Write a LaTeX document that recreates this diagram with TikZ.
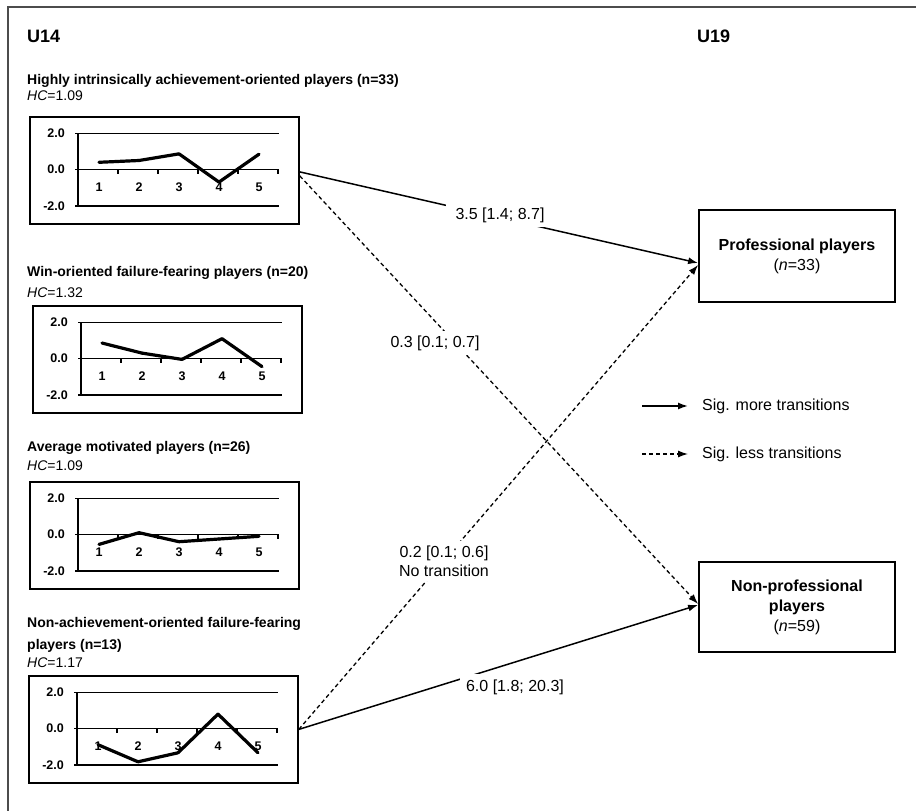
\documentclass[tikz,border=0pt]{standalone}
\usepackage{fontspec}
\setmainfont{Liberation Sans}
\usetikzlibrary{arrows.meta,positioning}

\begin{document}
\begin{tikzpicture}[
    x=1pt, y=-1pt,
    chartbox/.style={rectangle, draw, line width=1.8pt, minimum width=269pt, minimum height=107pt, anchor=north west, inner sep=0pt},
    outcome/.style={rectangle, draw, line width=1.8pt, minimum width=196pt, align=center, font=\fontsize{16}{20}\selectfont},
    gridline/.style={line width=1.2pt},
    profile/.style={line width=3.2pt, line cap=round, line join=round},
    axisnum/.style={inner sep=0pt, font=\bfseries\fontsize{12.5}{14}\selectfont},
    more/.style={-{Latex[length=10pt,width=7pt]}, line width=1.5pt},
    less/.style={more, dash pattern=on 4pt off 3pt, line width=1.3pt},
    lbl/.style={fill=white, inner sep=5pt, align=center, font=\fontsize{16}{19}\selectfont},
    title/.style={anchor=base west, inner sep=0pt, font=\bfseries\fontsize{14}{16}\selectfont},
    hc/.style={anchor=base west, inner sep=0pt, font=\fontsize{14}{16}\selectfont},
    legend/.style={anchor=west, inner sep=0pt, font=\fontsize{16}{19}\selectfont}
]
    \useasboundingbox (0,0) rectangle (916,811);
    \draw[line width=1.5pt, black!70] (916,7) -- (8,7) -- (8,811);

    % Age groups
    \node[anchor=base west, inner sep=0pt, font=\bfseries\fontsize{18}{20}\selectfont] (u14) at (27,42) {U14};
    \node[anchor=base west, inner sep=0pt, font=\bfseries\fontsize{18}{20}\selectfont] (u19) at (697,42) {U19};

    % Profile titles
    \node[title] (t1) at (27,84) {Highly intrinsically achievement-oriented players (n=33)};
    \node[hc] (hc1) at (27,100) {\textit{HC}=1.09};
    \node[title] (t2) at (27,276) {Win-oriented failure-fearing players (n=20)};
    \node[hc] (hc2) at (27,297) {\textit{HC}=1.32};
    \node[title] (t3) at (27,451) {Average motivated players (n=26)};
    \node[hc] (hc3) at (27,470) {\textit{HC}=1.09};
    \node[title] (t4) at (27,627) {Non-achievement-oriented failure-fearing};
    \node[title] (t4b) at (27,649) {players (n=13)};
    \node[hc] (hc4) at (27,667) {\textit{HC}=1.17};

    % Profile charts
    \foreach \bx/\by/\vals [count=\i] in {29/116/{0.4,0.5,0.87,-0.7,0.85},
                                          32/305/{0.86,0.3,-0.05,1.1,-0.45},
                                          29/481/{-0.55,0.1,-0.4,-0.25,-0.1},
                                          28/675/{-0.9,-1.85,-1.35,0.8,-1.35}} {
        \begin{scope}[shift={(\bx,\by)}]
            \node[chartbox] (chart\i) at (0,0) {};
            \foreach \yv/\ylab [count=\j] in {17.5/2.0, 53.5/0.0, 90/-2.0} {
                \draw[gridline] (46,\yv) -- (250,\yv);
                \node[axisnum, anchor=east] (ax\i\j) at (36,\yv) {\ylab};
            }
            \draw[gridline] (49,17.5) -- (49,90);
            \foreach \k in {1,...,5} {
                \draw[gridline] ({49+40*\k},53.5) -- ++(0,4);
                \node[axisnum] (cx\i\k) at ({30+40*\k},71.5) {\k};
            }
            \foreach \v [count=\k, remember=\v as \pv (initially 0)] in \vals {
                \ifnum\k>1
                    \draw[profile] ({40*\k-10},{53.5-18*\pv}) -- ({40*\k+30},{53.5-18*\v});
                \fi
            }
        \end{scope}
    }

    % Outcomes
    \node[outcome, minimum height=92pt] (pro) at (797,256) {\textbf{Professional players}\\(\textit{n}=33)};
    \node[outcome, minimum height=90pt] (nonpro) at (797,607) {\textbf{Non-professional}\\\textbf{players}\\(\textit{n}=59)};

    % Transitions
    \draw[more] ([yshift=-1.5pt]chart1.east) -- ([yshift=-7pt]pro.west);
    \draw[less] ([yshift=-5.5pt]chart1.east) -- ([yshift=3pt]nonpro.west);
    \draw[less] (chart4.east) -- ([yshift=-9pt]pro.west);
    \draw[more] (chart4.east) -- ([yshift=2pt]nonpro.west);

    \node[lbl, inner xsep=10pt] (p35) at (500,215) {3.5 [1.4; 8.7]};
    \node[lbl] (p03) at (435,343) {0.3 [0.1; 0.7]};
    \node[lbl] (p02) at (444,561) {0.2 [0.1; 0.6]\\No transition};
    \node[lbl, inner sep=6pt] (p60) at (515,687) {6.0 [1.8; 20.3]};

    % Legend
    \node[legend] (legmore) at (702,406) {Sig. more transitions};
    \node[legend] (legless) at (702,454) {Sig. less transitions};
    \draw[more] ([xshift=-60pt]legmore.west) -- ([xshift=-14pt]legmore.west);
    \draw[less] ([xshift=-60pt]legless.west) -- ([xshift=-14pt]legless.west);
\end{tikzpicture}
\end{document}
